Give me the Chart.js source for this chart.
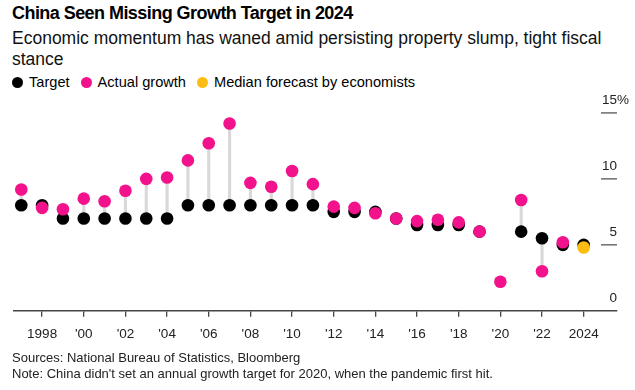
<!DOCTYPE html>
<html lang="en">
<head>
  <meta charset="UTF-8">
  <title>China Seen Missing Growth Target in 2024</title>
  <style>
    * { box-sizing: border-box; margin:0; padding:0; }
    body { width:635px; height:390px; background:#fff; color:#000; font-family:"Liberation Sans", Arial, sans-serif; position:relative; overflow:hidden; }
    h1 { position:absolute; left:12px; top:3px; font-size:18px; font-weight:bold; letter-spacing:-0.55px; }
    .sub { position:absolute; left:12px; top:28px; width:615px; font-size:17.5px; line-height:21px; color:#111; }
    .legend { position:absolute; left:12px; top:74px; font-size:14.6px; display:flex; gap:11px; }
    .legend span { display:flex; align-items:center; }
    .legend i { display:inline-block; width:11px; height:11px; border-radius:50%; margin-right:6px; }
    .chartbox { position:absolute; left:0; top:85px; width:635px; height:268px; }
    .foot { position:absolute; left:12px; top:350px; font-size:13px; line-height:16px; color:#222; }
  </style>
  <script src="https://cdn.jsdelivr.net/npm/chart.js"></script>
</head>
<body>
  <h1>China Seen Missing Growth Target in 2024</h1>
  <div class="sub">Economic momentum has waned amid persisting property slump, tight fiscal stance</div>
  <div class="legend">
    <span><i style="background:#000"></i>Target</span>
    <span><i style="background:#f2128c"></i>Actual growth</span>
    <span><i style="background:#fbbd14"></i>Median forecast by economists</span>
  </div>
  <div class="chartbox"><canvas id="chart"></canvas></div>
  <div class="foot">Sources: National Bureau of Statistics, Bloomberg<br>Note: China didn't set an annual growth target for 2020, when the pandemic first hit.</div>

  <script>
    const years = [1997,1998,1999,2000,2001,2002,2003,2004,2005,2006,2007,2008,2009,2010,2011,2012,2013,2014,2015,2016,2017,2018,2019,2020,2021,2022,2023,2024];
    const target = [8,8,7,7,7,7,7,7,8,8,8,8,8,8,8,7.5,7.5,7.5,7,6.5,6.5,6.5,6,null,6,5.5,5,5];
    const actual = [9.2,7.8,7.7,8.5,8.3,9.1,10.0,10.1,11.4,12.7,14.2,9.7,9.4,10.6,9.6,7.9,7.8,7.4,7.0,6.8,6.9,6.7,6.0,2.2,8.4,3.0,5.2,null];
    const forecastYears = [2024];
    const forecast = [4.8];
    const xTickYears = [1998,2000,2002,2004,2006,2008,2010,2012,2014,2016,2018,2020,2022,2024];
    const xTickLabels = ['1998',"'00","'02","'04","'06","'08","'10","'12","'14","'16","'18","'20","'22",'2024'];
    const yTicks = [0,5,10,15];

    const PINK = '#f2128c', YELLOW = '#fbbd14';

    // stems from target to actual (or forecast when no actual yet)
    const stems = years.map((y, i) => {
      const a = actual[i] != null ? actual[i] : forecast[forecastYears.indexOf(y)];
      if (target[i] == null || a == null) return null;
      return { x: y, y: [target[i], a] };
    }).filter(Boolean);

    const yLabels = {
      id: 'yLabels',
      afterDraw(c) {
        const ctx = c.ctx, ys = c.scales.y, right = c.chartArea.right;
        ctx.save();
        ctx.font = '13.5px "Liberation Sans", Arial, sans-serif';
        ctx.fillStyle = '#222';
        ctx.strokeStyle = '#555';
        ctx.lineWidth = 1.3;
        yTicks.forEach(v => {
          const py = ys.getPixelForValue(v);
          if (v !== 0) {
            ctx.beginPath(); ctx.moveTo(right - 16, py); ctx.lineTo(right, py); ctx.stroke();
          }
          ctx.textAlign = 'right';
          ctx.textBaseline = 'alphabetic';
          ctx.fillText(String(v), right, py - 9);
          if (v === 15) { ctx.textAlign = 'left'; ctx.fillText('%', right, py - 9); }
        });
        ctx.restore();
      }
    };

    new Chart(document.getElementById('chart'), {
      data: {
        datasets: [
          { type: 'bar', data: stems, backgroundColor: '#d9d9d9', barThickness: 2.5, order: 4 },
          { type: 'scatter', data: years.map((y, i) => ({ x: y, y: target[i] })), backgroundColor: '#000', borderWidth: 0, pointRadius: 6.3, order: 3 },
          { type: 'scatter', data: years.map((y, i) => ({ x: y, y: actual[i] })), backgroundColor: PINK, borderWidth: 0, pointRadius: 6.3, order: 2 },
          { type: 'scatter', data: forecastYears.map((y, i) => ({ x: y, y: forecast[i] })), backgroundColor: YELLOW, borderWidth: 0, pointRadius: 6.3, order: 1 }
        ]
      },
      options: {
        responsive: true,
        maintainAspectRatio: false,
        animation: false,
        clip: false,
        layout: { padding: { left: 14, right: 18, top: 20, bottom: 2 } },
        plugins: { legend: { display: false }, tooltip: { enabled: false } },
        scales: {
          x: {
            type: 'linear', min: 1996.65, max: 2025.6, offset: false,
            afterBuildTicks: s => { s.ticks = xTickYears.map(v => ({ value: v })); },
            ticks: {
              callback: v => xTickLabels[xTickYears.indexOf(v)],
              font: { size: 13.5, family: '"Liberation Sans", Arial, sans-serif' },
              color: '#222', padding: 9, maxRotation: 0, autoSkip: false
            },
            grid: { offset: false, drawOnChartArea: false, drawTicks: true, tickLength: 6, color: '#444', lineWidth: 1.3 },
            border: { color: '#444', width: 1.5 }
          },
          y: { display: false, min: 0, max: 15.6 }
        }
      },
      plugins: [yLabels]
    });
  </script>
</body>
</html>
